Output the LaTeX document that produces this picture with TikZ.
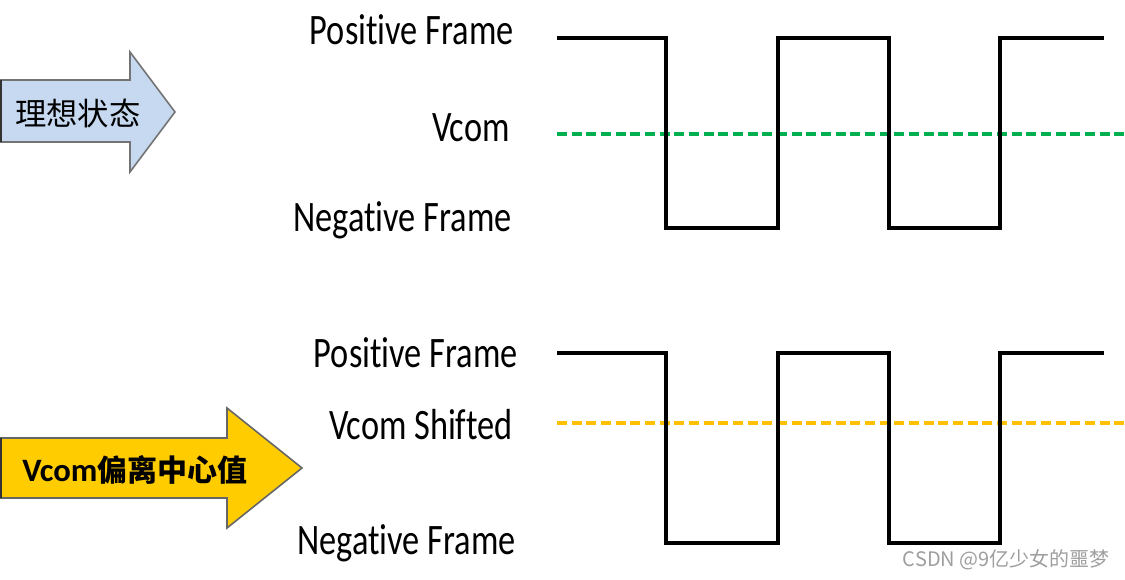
\documentclass[tikz,border=0pt]{standalone}
\usepackage{fontspec}
\setmainfont{Carlito}
\newfontfamily\lblfont[FakeStretch=0.79,Ligatures=NoCommon]{Carlito}
\newfontfamily\cjkfont{Noto Sans CJK SC}
\newfontfamily\wmfont{Noto Sans CJK SC}
\begin{document}
\begin{tikzpicture}[x=0.75pt,y=-0.75pt,
  wave/.style={line width=2.5pt, line join=miter, line cap=butt, black},
  vline/.style={line width=2.4pt, dash pattern=on 7.5pt off 3.5pt},
  lbl/.style={anchor=base east, inner sep=0pt, font=\lblfont\fontsize{32.6}{36}\selectfont},
  arrowbox/.style={draw=black!55, line width=1.2pt, line join=miter}]
\useasboundingbox (0,0) rectangle (1125,580);
\definecolor{arrowblue}{HTML}{C6D9F1}
\definecolor{arrowyellow}{HTML}{FFCC00}
\definecolor{vgreen}{HTML}{00B050}
\definecolor{vorange}{HTML}{FFC000}

% ---- arrows ----
\draw[arrowbox, fill=arrowblue] (0,80) -- (130,80) -- (130,52) -- (175,112) -- (130,172) -- (130,142) -- (0,142) -- cycle;
\draw[black!80, line width=1.5pt] (0.75,80) -- (0.75,142);
\node[inner sep=0pt, font=\cjkfont\fontsize{23.5}{26}\selectfont] (ideal) at (78,114) {理想状态};

\draw[arrowbox, draw=black!60, fill=arrowyellow] (0,438) -- (227,438) -- (227,408) -- (302,468) -- (227,528) -- (227,498) -- (0,498) -- cycle;
\draw[black!80, line width=1.5pt] (0.75,438) -- (0.75,498);
\node[inner sep=0pt, anchor=west] (shift) at (22,470) {{\bfseries\fontsize{24.5}{28}\selectfont Vcom}{\cjkfont\bfseries\fontsize{22.5}{26}\selectfont 偏离中心值}};

% ---- top waveform ----
\draw[vline, vgreen] (557,134) -- (1125,134);
\draw[wave] (557,38) -- (666,38) -- (666,228) -- (778,228) -- (778,38) -- (889,38) -- (889,228) -- (1000,228) -- (1000,38) -- (1104,38);
\node[lbl] (pos1) at (514,45) {Positive Frame};
\node[lbl] (vcom1) at (510,142) {Vcom};
\node[lbl] (neg1) at (512,232) {Negative Frame};

% ---- bottom waveform ----
\draw[vline, vorange] (557,423) -- (1125,423);
\draw[wave] (557,353) -- (666,353) -- (666,543) -- (778,543) -- (778,353) -- (889,353) -- (889,543) -- (1000,543) -- (1000,353) -- (1104,353);
\node[lbl] (pos2) at (518,368) {Positive Frame};
\node[lbl] (vcom2) at (513,440) {Vcom Shifted};
\node[lbl] (neg2) at (516,555) {Negative Frame};

% ---- watermark ----
\node[anchor=base east, inner sep=0pt, text=black!38, font=\wmfont\fontsize{15}{17}\selectfont] (wm) at (1110,567) {CSDN @9亿少女的噩梦};
\end{tikzpicture}
\end{document}
